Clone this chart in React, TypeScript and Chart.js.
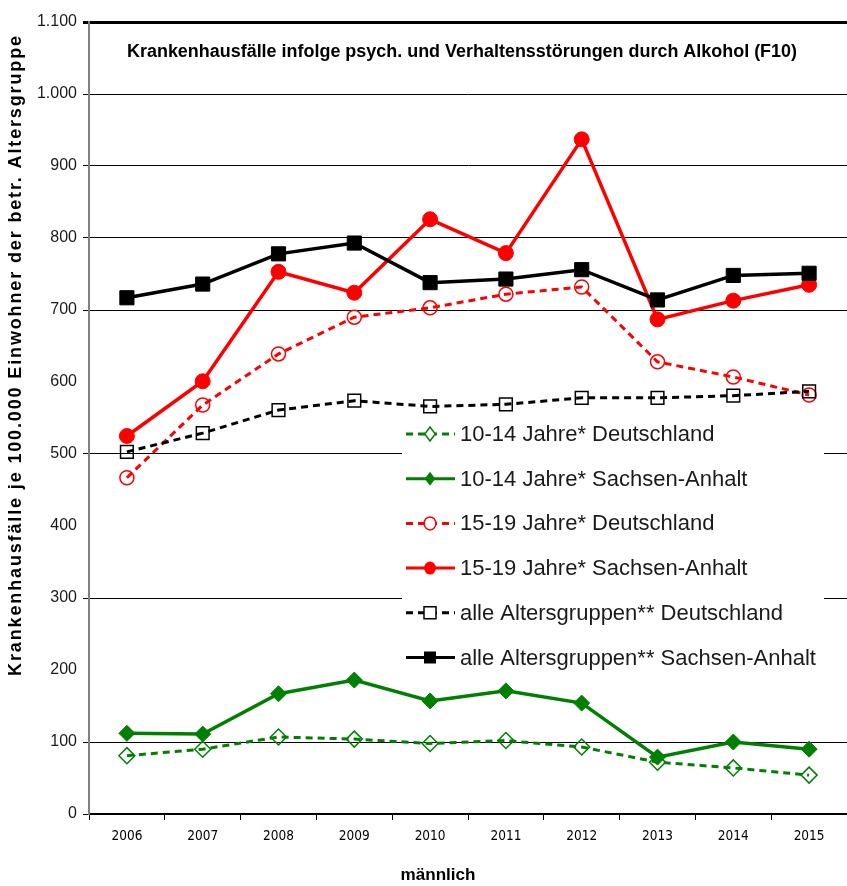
import React, { useEffect, useRef } from 'react';
import { Chart, registerables } from 'chart.js';

Chart.register(...registerables);

const years = ['2006', '2007', '2008', '2009', '2010', '2011', '2012', '2013', '2014', '2015'];
const jahre1014DE = [81, 90, 107, 104, 98, 102, 93, 72, 64, 54];
const jahre1014SA = [112, 111, 167, 186, 157, 171, 154, 79, 100, 90];
const jahre1519DE = [467, 568, 639, 690, 703, 722, 732, 628, 607, 582];
const jahre1519SA = [525, 601, 753, 724, 826, 779, 937, 687, 713, 735];
const alleDE = [503, 529, 561, 574, 566, 569, 578, 578, 581, 587];
const alleSA = [717, 736, 778, 793, 738, 743, 756, 714, 748, 751];

const seriesLabels = [
  '10-14 Jahre* Deutschland',
  '10-14 Jahre* Sachsen-Anhalt',
  '15-19 Jahre* Deutschland',
  '15-19 Jahre* Sachsen-Anhalt',
  'alle Altersgruppen** Deutschland',
  'alle Altersgruppen** Sachsen-Anhalt',
];
const gridValues = [100, 300, 500, 700, 800, 900, 1000];
const chartTitle = 'Krankenhausfälle infolge psych. und Verhaltensstörungen durch Alkohol (F10)';
const yTitle = 'Krankenhausfälle je 100.000 Einwohner der betr. Altersgruppe';
const xTitle = 'männlich';

const GREEN = '#008000';
const RED = '#ff0000';
const BLACK = '#000000';
const DASH = [7, 5];
const NARROW = '"Liberation Sans Narrow", "Arial Narrow", "DejaVu Sans Condensed", sans-serif';
const SANS = '"Liberation Sans", Arial, sans-serif';

function fmt(v: number): string {
  if (v >= 1000) return Math.floor(v / 1000) + '.' + String(v % 1000).padStart(3, '0');
  return String(v);
}

function drawMarker(ctx: CanvasRenderingContext2D, style: string, x: number, y: number, r: number, filled: boolean, color: string) {
  ctx.save();
  ctx.setLineDash([]);
  ctx.beginPath();
  if (style === 'rectRot') {
    ctx.moveTo(x, y - r);
    ctx.lineTo(x + r * 0.75, y);
    ctx.lineTo(x, y + r);
    ctx.lineTo(x - r * 0.75, y);
    ctx.closePath();
  } else if (style === 'circle') {
    ctx.ellipse(x, y, r * 0.9, r, 0, 0, Math.PI * 2);
  } else {
    ctx.rect(x - r, y - r, 2 * r, 2 * r);
  }
  if (filled) {
    ctx.fillStyle = color;
    ctx.fill();
  } else {
    ctx.fillStyle = '#ffffff';
    ctx.fill();
    ctx.lineWidth = 1.5;
    ctx.strokeStyle = color;
    ctx.stroke();
  }
  ctx.restore();
}

function fitText(ctx: CanvasRenderingContext2D, text: string, cx: number, cy: number, width: number) {
  const w = ctx.measureText(text).width;
  ctx.save();
  ctx.translate(cx, cy);
  ctx.scale(width / w, 1);
  ctx.textAlign = 'center';
  ctx.fillText(text, 0, 0);
  ctx.restore();
}

const legendPlugin = {
  id: 'insideLegend',
  afterDatasetsDraw(chart: any) {
    const ctx = chart.ctx as CanvasRenderingContext2D;
    ctx.save();
    ctx.fillStyle = '#ffffff';
    ctx.fillRect(394, 410, 422, 262);
    chart.data.datasets.forEach((ds: any, i: number) => {
      const y = 426 + i * 44.7;
      ctx.strokeStyle = ds.borderColor;
      ctx.lineWidth = 3;
      ctx.setLineDash(ds.borderDash || []);
      ctx.beginPath();
      ctx.moveTo(398, y);
      ctx.lineTo(447, y);
      ctx.stroke();
      ctx.setLineDash([]);
      const filled = !ds.borderDash;
      const r = ds.pointStyle === 'rect' ? 6 : ds.pointStyle === 'circle' ? 6.5 : 7;
      drawMarker(ctx, ds.pointStyle, 422, y, r, filled, ds.borderColor);
      ctx.fillStyle = '#1a1a1a';
      ctx.font = '22px ' + SANS;
      ctx.textBaseline = 'middle';
      ctx.textAlign = 'left';
      ctx.fillText(ds.label, 452, y + 1);
    });
    ctx.restore();
  },
};

const textPlugin = {
  id: 'texts',
  afterDraw(chart: any) {
    const ctx = chart.ctx as CanvasRenderingContext2D;
    ctx.save();
    ctx.fillStyle = '#000000';
    ctx.textBaseline = 'middle';
    ctx.font = 'bold 18px ' + SANS;
    fitText(ctx, chartTitle, 454, 44, 670);
    ctx.font = 'bold 17px ' + SANS;
    fitText(ctx, xTitle, 430, 867, 75);
    ctx.save();
    ctx.translate(8, 347);
    ctx.rotate(-Math.PI / 2);
    ctx.font = 'bold 18px ' + SANS;
    const base = ctx.measureText(yTitle).width;
    const ls = Math.max(0, (640 - base) / (yTitle.length - 1));
    (ctx as any).letterSpacing = ls.toFixed(2) + 'px';
    const w2 = ctx.measureText(yTitle).width;
    ctx.textAlign = 'left';
    ctx.fillText(yTitle, -w2 / 2, 0);
    ctx.restore();
    ctx.restore();
  },
};

function makeDataset(label: string, data: number[], color: string, dashed: boolean, style: string, radius: number, order: number) {
  return {
    label,
    data,
    borderColor: color,
    backgroundColor: color,
    borderWidth: dashed ? 3 : 3.5,
    borderDash: dashed ? DASH : undefined,
    pointStyle: style,
    pointRadius: radius,
    pointHoverRadius: radius,
    pointBorderWidth: dashed ? 1.5 : 1,
    pointBorderColor: color,
    pointBackgroundColor: dashed ? 'rgba(255,255,255,0)' : color,
    tension: 0,
    fill: false,
    order,
  };
}

export default function App() {
  const ref = useRef<HTMLCanvasElement | null>(null);
  useEffect(() => {
    if (!ref.current) return;
    const chart = new Chart(ref.current, {
      type: 'line',
      data: {
        labels: years,
        datasets: [
          makeDataset(seriesLabels[0], jahre1014DE, GREEN, true, 'rectRot', 8, 6),
          makeDataset(seriesLabels[1], jahre1014SA, GREEN, false, 'rectRot', 8, 5),
          makeDataset(seriesLabels[2], jahre1519DE, RED, true, 'circle', 7, 4),
          makeDataset(seriesLabels[3], jahre1519SA, RED, false, 'circle', 7.5, 3),
          makeDataset(seriesLabels[4], alleDE, BLACK, true, 'rect', 9, 2),
          makeDataset(seriesLabels[5], alleSA, BLACK, false, 'rect', 10, 1),
        ] as any,
      },
      options: {
        responsive: false,
        animation: false,
        layout: { padding: { top: 14, right: 1, left: 0, bottom: 0 } },
        plugins: {
          legend: { display: false },
          tooltip: { enabled: false },
          title: { display: false },
        },
        scales: {
          x: {
            offset: true,
            afterFit: (s: any) => { s.height = 72; },
            grid: {
              offset: true,
              drawOnChartArea: false,
              drawTicks: true,
              tickLength: 6,
              tickColor: '#000000',
              tickWidth: 1,
            },
            border: { color: '#000000', width: 1.5 },
            ticks: {
              color: '#000000',
              padding: 8,
              maxRotation: 0,
              font: { family: NARROW, size: 13.5 },
            },
          },
          y: {
            min: 0,
            max: 1100,
            afterFit: (s: any) => { s.width = 81; },
            ticks: {
              stepSize: 100,
              color: '#1a1a1a',
              padding: 6,
              font: { family: SANS, size: 16, lineHeight: 1 },
              callback: (v: any) => fmt(Number(v)),
            },
            grid: {
              drawTicks: true,
              tickLength: 6,
              color: (c: any) => {
                const v = c.tick ? c.tick.value : -1;
                if (v === 1100 || v === 0 || gridValues.includes(v)) return '#000000';
                return 'rgba(0,0,0,0)';
              },
              lineWidth: (c: any) => (c.tick && c.tick.value === 1100 ? 3 : 1),
            },
            border: { color: '#808080', width: 2 },
          },
        },
      } as any,
      plugins: [legendPlugin, textPlugin],
    });
    return () => chart.destroy();
  }, []);

  return (
    <div style={{ position: 'fixed', left: 8, top: 8, width: 839, height: 878, overflow: 'hidden' }}>
      <canvas ref={ref} width={850} height={878} style={{ display: 'block' }} />
    </div>
  );
}
